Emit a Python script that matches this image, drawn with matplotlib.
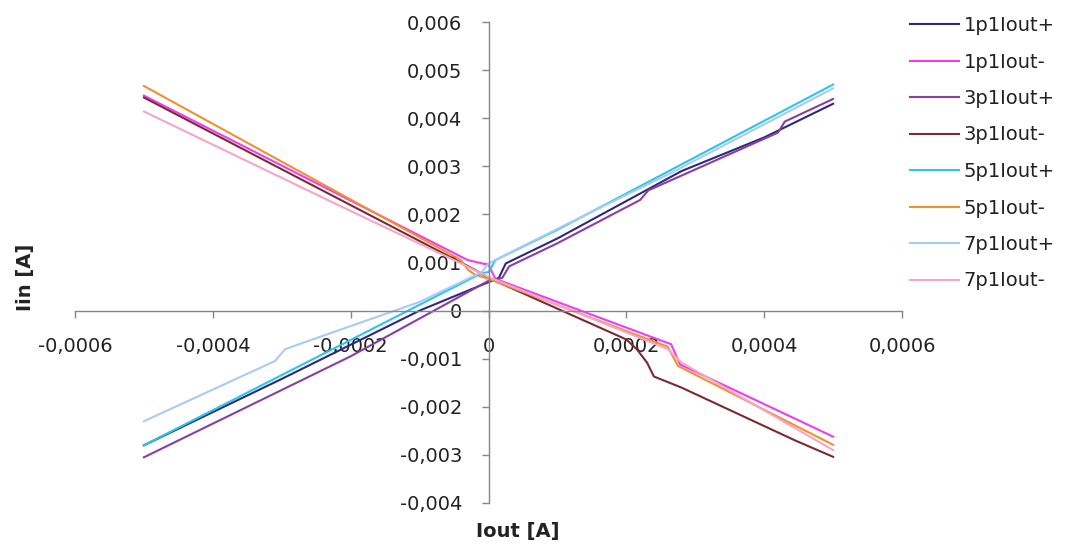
import matplotlib
matplotlib.use('Agg')
import matplotlib.pyplot as plt
from matplotlib.ticker import FuncFormatter, MultipleLocator

plt.rcParams['font.family'] = ['DejaVu Sans']

# Iout [A] / Iin [A] breakpoints
x_1p_pos = [-0.0005, -0.0003, -0.0001, 0.000015, 0.000025, 0.0001, 0.00028, 0.0004, 0.0005]
y_1p_pos = [-0.0028, -0.00142, 0.0, 0.00068, 0.00098, 0.0015, 0.0029, 0.0036, 0.0043]

x_1p_neg = [-0.0005, -0.00003, 0.0, 0.00001, 0.000265, 0.000278, 0.0005]
y_1p_neg = [0.00447, 0.00105, 0.00095, 0.00066, -0.0007, -0.00112, -0.00262]

x_3p_pos = [-0.0005, -0.0002, 0.0, 0.00002, 0.00003, 0.0001, 0.00022, 0.000232, 0.00042, 0.00043, 0.0005]
y_3p_pos = [-0.00305, -0.00095, 0.00062, 0.00068, 0.00092, 0.0014, 0.0023, 0.0025, 0.0037, 0.00393, 0.0044]

x_3p_neg = [-0.0005, -0.00002, 0.0, 0.0002, 0.000215, 0.00023, 0.00024, 0.00028, 0.00043, 0.000445, 0.0005]
y_3p_neg = [0.00443, 0.00085, 0.00068, -0.0006, -0.0008, -0.00108, -0.00137, -0.0016, -0.0026, -0.0027, -0.00304]

x_5p_pos = [-0.0005, -0.0002, -0.00001, 0.0, 0.00001, 0.0001, 0.0005]
y_5p_pos = [-0.0028, -0.00061, 0.00078, 0.0008, 0.00105, 0.00168, 0.0047]

x_5p_neg = [-0.0005, -0.00004, -0.00003, -0.00002, 0.0, 0.00026, 0.000275, 0.0005]
y_5p_neg = [0.00467, 0.00105, 0.00085, 0.00075, 0.00066, -0.00075, -0.00115, -0.00279]

x_7p_pos = [-0.0005, -0.00031, -0.000295, -0.0001, -0.00001, 0.0, 0.0001, 0.00027, 0.00029, 0.0005]
y_7p_pos = [-0.0023, -0.00105, -0.0008, 0.00018, 0.0008, 0.00098, 0.0017, 0.0029, 0.00305, 0.00462]

x_7p_neg = [-0.0005, -0.0002, -0.00005, 0.0, 0.00026, 0.00028, 0.0005]
y_7p_neg = [0.00414, 0.00207, 0.00105, 0.0007, -0.0008, -0.00108, -0.0029]

series = [
    ('1p1Iout+', x_1p_pos, y_1p_pos, '#2D2A7E'),
    ('1p1Iout-', x_1p_neg, y_1p_neg, '#F03CF0'),
    ('3p1Iout+', x_3p_pos, y_3p_pos, '#8A3FA0'),
    ('3p1Iout-', x_3p_neg, y_3p_neg, '#7A2A35'),
    ('5p1Iout+', x_5p_pos, y_5p_pos, '#2EC4E8'),
    ('5p1Iout-', x_5p_neg, y_5p_neg, '#F0902E'),
    ('7p1Iout+', x_7p_pos, y_7p_pos, '#A9CBF2'),
    ('7p1Iout-', x_7p_neg, y_7p_neg, '#F4A6C6'),
]

W, H = 1071, 544
fig = plt.figure(figsize=(W / 100, H / 100), dpi=100)
ax = fig.add_axes([75 / W, 1 - 503 / H, 827 / W, 481 / H])

for name, xs, ys, col in series:
    ax.plot(xs, ys, color=col, linewidth=1.5, label=name)

ax.set_xlim(-0.0006, 0.0006)
ax.set_ylim(-0.004, 0.006)
ax.xaxis.set_major_locator(MultipleLocator(0.0002))
ax.yaxis.set_major_locator(MultipleLocator(0.001))


def fmt_x(v, pos):
    return '0' if abs(v) < 1e-9 else f'{v:.4f}'.replace('.', ',')


def fmt_y(v, pos):
    return '0' if abs(v) < 1e-9 else f'{v:.3f}'.replace('.', ',')


ax.xaxis.set_major_formatter(FuncFormatter(fmt_x))
ax.yaxis.set_major_formatter(FuncFormatter(fmt_y))

axis_col = '#868686'
for side in ('top', 'right'):
    ax.spines[side].set_visible(False)
ax.spines['left'].set_position(('data', 0))
ax.spines['bottom'].set_position(('data', 0))
for side in ('left', 'bottom'):
    ax.spines[side].set_color(axis_col)
    ax.spines[side].set_linewidth(1.0)
ax.tick_params(axis='both', direction='out', length=5, width=1.0, color=axis_col,
               labelsize=14, labelcolor='#222222', pad=14)

fig.text(25 / W, 1 - 277 / H, 'Iin [A]', rotation=90, fontsize=14, fontweight='bold',
         ha='center', va='center', color='#222222')
fig.text(518 / W, 1 - 531 / H, 'Iout [A]', fontsize=14, fontweight='bold',
         ha='center', va='center', color='#222222')

ax.legend(loc='upper left', bbox_to_anchor=(910 / W, 1 - 16 / H), bbox_transform=fig.transFigure,
          frameon=False, fontsize=14, borderpad=0, borderaxespad=0, handlelength=2.5,
          handletextpad=0.25, labelspacing=0.9, labelcolor='#222222')

fig.savefig('out.png', dpi=100)
